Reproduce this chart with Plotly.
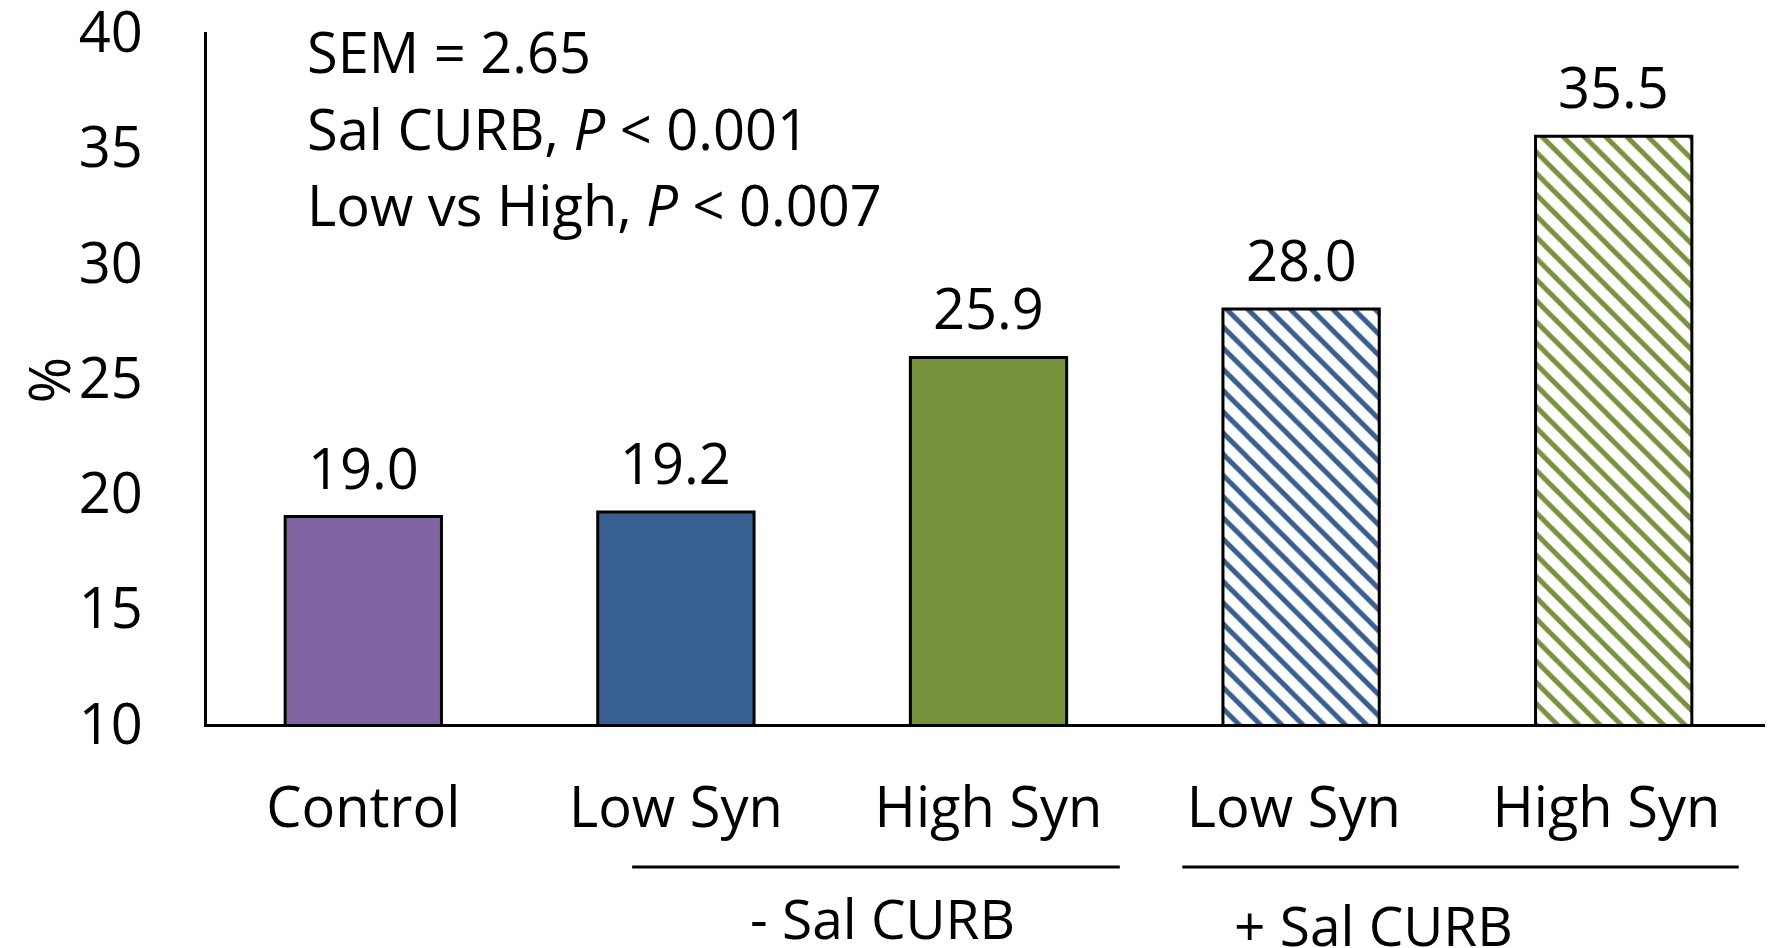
import plotly.graph_objects as go

# data
categories = ["Control", "Low Syn", "High Syn", "Low Syn ", "High Syn "]
values = [19.0, 19.2, 25.9, 28.0, 35.5]
bar_colors = ["#8064A2", "#376092", "#77933C", "#376092", "#77933C"]
hatched = [False, False, False, True, True]
y_ticks = [10, 15, 20, 25, 30, 35, 40]
stats_lines = ["SEM = 2.65", "Sal CURB, <i>P</i> < 0.001", "Low vs High, <i>P</i> < 0.007"]
group_labels = ["- Sal CURB", "+ Sal CURB"]

FONT = "Open Sans"

fig = go.Figure()

# one trace per bar so each can carry its own fill / hatch
for cat, v, col, h in zip(categories, values, bar_colors, hatched):
    if h:
        marker = dict(color="white", line=dict(color="black", width=3),
                      pattern=dict(shape="\\", fgcolor=col, bgcolor="white", fgopacity=1,
                                   size=15, solidity=0.33))
    else:
        marker = dict(color=col, line=dict(color="black", width=3))
    fig.add_trace(go.Bar(x=[cat], y=[v], marker=marker, width=0.5, hoverinfo="x+y"))

# value labels above bars
for cat, v in zip(categories, values):
    fig.add_annotation(x=cat, y=v, text=f"{v:.1f}", showarrow=False,
                       yanchor="middle", yshift=50,
                       font=dict(family=FONT, size=56, color="black"))

# stats text block
for i, line in enumerate(stats_lines):
    fig.add_annotation(xref="paper", yref="paper", x=0.0627, y=0.9725 - i * 0.1106,
                       xanchor="left", yanchor="middle",
                       text=line, showarrow=False,
                       font=dict(family=FONT, size=56, color="black"))

# y axis title
fig.add_annotation(xref="paper", yref="paper", x=-0.102, y=0.496, text="%", textangle=-90,
                   xanchor="center", yanchor="middle", borderpad=0,
                   showarrow=False, font=dict(family=FONT, size=56, color="black"))

# group brackets
fig.add_shape(type="line", xref="x", yref="paper", x0=0.86, x1=2.42, y0=-0.2066, y1=-0.2066,
              line=dict(color="black", width=3))
fig.add_shape(type="line", xref="x", yref="paper", x0=2.62, x1=4.40, y0=-0.2066, y1=-0.2066,
              line=dict(color="black", width=3))
fig.add_annotation(xref="x", yref="paper", x=1.66, y=-0.28, text=group_labels[0], showarrow=False,
                   yanchor="middle", font=dict(family=FONT, size=55, color="black"))
fig.add_annotation(xref="x", yref="paper", x=3.23, y=-0.29, text=group_labels[1], showarrow=False,
                   yanchor="middle", font=dict(family=FONT, size=55, color="black"))

# page body has an 8px margin, so the figure is shifted by 8px; compensate here
fig.update_layout(
    width=1765,
    height=940,
    barmode="overlay",
    plot_bgcolor="white",
    paper_bgcolor="white",
    font=dict(family=FONT, size=56, color="black"),
    margin=dict(l=199, r=3, t=24, b=224),
    showlegend=False,
    xaxis=dict(
        automargin=False,
        showgrid=False,
        showline=True, linecolor="black", linewidth=3,
        ticks="outside", ticklen=33, tickcolor="rgba(0,0,0,0)",
        tickfont=dict(family=FONT, size=56),
    ),
    yaxis=dict(
        automargin=False,
        range=[10, 40.02],
        tickvals=y_ticks,
        ticklabeloverflow="allow",
        showgrid=False, zeroline=False,
        showline=True, linecolor="black", linewidth=3,
        ticks="outside", ticklen=50, tickcolor="rgba(0,0,0,0)",
        tickfont=dict(family=FONT, size=56),
    ),
)

fig.write_html("out.html")
